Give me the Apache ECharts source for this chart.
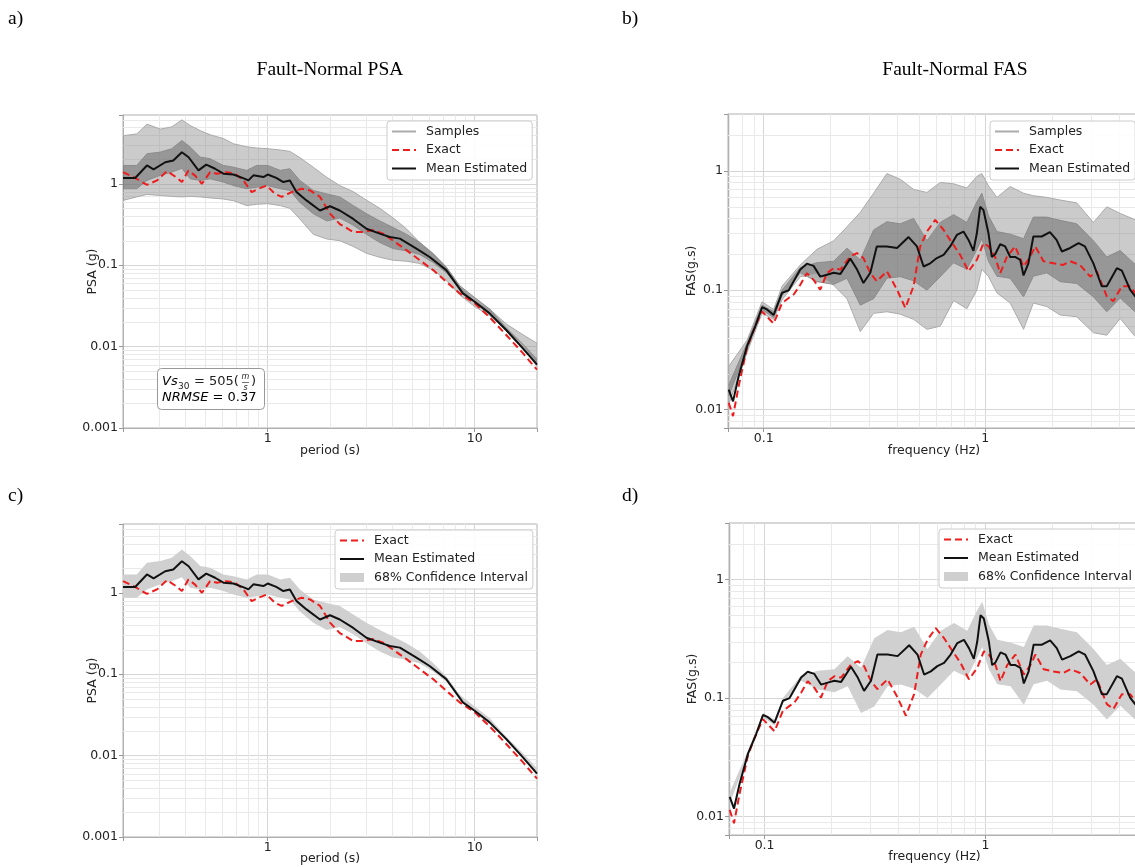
<!DOCTYPE html>
<html><head><meta charset="utf-8">
<script src="https://cdn.jsdelivr.net/npm/echarts@6/dist/echarts.min.js"></script>
<style>html,body{margin:0;padding:0;background:#fff}#c{width:1135px;height:867px}</style>
</head><body><div id="c"></div>
<script>
// ---------------- DATA ----------------
// PSA: mean estimated (period s, g)
const psaMeanPeriod = [0.2,0.229,0.261,0.281,0.32,0.35,0.385,0.415,0.463,0.505,0.557,0.611,0.683,0.777,0.807,0.853,0.953,1.0,1.10,1.19,1.28,1.38,1.54,1.79,2.0,2.23,2.59,3.0,3.48,3.89,4.35,5.23,6.06,7.29,8.77,10,11.8,14.2,17.1,20];
const psaMean = [1.18,1.18,1.68,1.5,1.84,1.93,2.44,2.12,1.46,1.72,1.53,1.33,1.30,1.15,1.1,1.27,1.21,1.30,1.18,1.05,1.1,0.79,0.625,0.47,0.53,0.47,0.37,0.28,0.244,0.222,0.212,0.16,0.126,0.087,0.045,0.0356,0.0256,0.016,0.0095,0.006];
// PSA: exact
const psaExactPeriod = [0.2,0.225,0.261,0.292,0.326,0.357,0.385,0.414,0.446,0.481,0.527,0.568,0.634,0.696,0.763,0.837,0.902,0.989,1.085,1.168,1.305,1.459,1.6,1.79,2.0,2.23,2.59,2.89,3.23,3.61,4.04,4.68,5.43,6.3,7.3,8.47,10,11.8,14.2,17.1,20];
const psaExact = [1.39,1.21,0.97,1.1,1.43,1.23,1.05,1.46,1.26,1.0,1.39,1.33,1.39,1.33,1.1,0.79,0.87,0.95,0.75,0.69,0.79,0.87,0.83,0.69,0.43,0.32,0.256,0.256,0.27,0.244,0.2,0.153,0.115,0.087,0.0625,0.045,0.034,0.023,0.0139,0.0083,0.0052];
// PSA: band periods, 68% CI and sample envelope
const psaBandPeriod = [0.2,0.233,0.261,0.303,0.344,0.385,0.422,0.472,0.527,0.611,0.683,0.792,0.885,1.0,1.15,1.28,1.43,1.66,1.93,2.23,2.59,3.0,3.48,4.04,4.68,5.43,6.3,7.3,8.47,10,11.8,14.2,17.1,20];
const psaCiUpper = [1.68,1.68,2.34,2.45,2.7,3.4,2.83,2.13,2.03,1.68,1.6,1.46,1.68,1.68,1.46,1.53,1.1,0.83,0.75,0.69,0.54,0.43,0.35,0.29,0.24,0.19,0.137,0.094,0.056,0.04,0.029,0.017,0.0107,0.007];
const psaCiLower = [0.87,0.87,1.1,1.27,1.39,1.55,1.15,1.1,1.15,1.05,0.95,0.87,0.91,0.95,0.87,0.83,0.59,0.43,0.35,0.38,0.31,0.24,0.19,0.16,0.15,0.135,0.108,0.081,0.051,0.035,0.026,0.0155,0.0093,0.006];
const psaSamplesUpper = [3.9,4.1,5.4,4.7,5.0,6.1,5.2,4.5,4.0,3.6,3.1,2.85,2.75,2.7,2.6,2.5,2.1,1.6,1.2,0.95,0.8,0.63,0.5,0.38,0.28,0.19,0.14,0.095,0.055,0.037,0.029,0.019,0.014,0.011];
const psaSamplesLower = [0.625,0.69,0.74,0.72,0.70,0.69,0.70,0.69,0.67,0.65,0.62,0.54,0.56,0.57,0.54,0.5,0.37,0.24,0.21,0.2,0.17,0.14,0.125,0.115,0.112,0.105,0.087,0.065,0.043,0.031,0.024,0.016,0.0105,0.0057];

// FAS: mean estimated (frequency Hz, g.s)
const fasMeanFreq = [0.0695,0.0727,0.0771,0.0841,0.0917,0.0983,0.1035,0.1109,0.121,0.1297,0.1366,0.1463,0.1567,0.168,0.180,0.193,0.207,0.222,0.246,0.264,0.282,0.303,0.324,0.360,0.400,0.451,0.492,0.527,0.565,0.605,0.649,0.695,0.745,0.798,0.841,0.885,0.917,0.949,0.982,1.035,1.071,1.109,1.169,1.231,1.297,1.365,1.439,1.49,1.567,1.65,1.80,1.96,2.10,2.22,2.42,2.64,2.82,3.08,3.36,3.54,3.93,4.14,4.51,4.75,5.0];
const fasMean = [0.0147,0.0117,0.019,0.034,0.05,0.072,0.069,0.062,0.095,0.1,0.119,0.149,0.167,0.16,0.13,0.135,0.14,0.137,0.184,0.149,0.115,0.14,0.233,0.233,0.226,0.279,0.233,0.158,0.168,0.186,0.198,0.233,0.291,0.31,0.264,0.214,0.30,0.50,0.47,0.30,0.19,0.2,0.243,0.233,0.19,0.19,0.18,0.133,0.168,0.282,0.282,0.307,0.264,0.211,0.226,0.248,0.233,0.168,0.108,0.108,0.153,0.146,0.101,0.089,0.082];
// FAS: exact
const fasExactFreq = [0.0695,0.0727,0.0771,0.0841,0.0917,0.0983,0.1035,0.1109,0.121,0.1297,0.1366,0.1463,0.1567,0.168,0.180,0.193,0.207,0.222,0.246,0.264,0.282,0.303,0.324,0.360,0.400,0.436,0.475,0.509,0.546,0.595,0.649,0.708,0.771,0.841,0.917,0.982,1.035,1.109,1.169,1.253,1.365,1.49,1.596,1.682,1.833,2.03,2.25,2.42,2.68,2.98,3.19,3.54,3.79,4.14,4.51,4.75,5.0];
const fasExact = [0.0114,0.0088,0.0157,0.033,0.05,0.0665,0.06,0.0525,0.078,0.086,0.092,0.111,0.139,0.122,0.101,0.139,0.153,0.149,0.192,0.205,0.186,0.139,0.119,0.144,0.101,0.071,0.108,0.233,0.31,0.389,0.32,0.25,0.198,0.144,0.18,0.248,0.233,0.19,0.139,0.19,0.233,0.158,0.19,0.233,0.175,0.168,0.163,0.175,0.163,0.13,0.144,0.089,0.081,0.108,0.108,0.095,0.085];
// FAS: band frequencies, 68% CI and sample envelope
const fasBandFreq = [0.0695,0.0841,0.0983,0.1109,0.121,0.1463,0.174,0.207,0.2377,0.273,0.3135,0.360,0.414,0.475,0.546,0.627,0.720,0.826,0.917,0.966,1.035,1.13,1.297,1.49,1.65,1.897,2.18,2.59,3.08,3.54,4.07,4.75,5.0];
const fasCiUpper = [0.016,0.036,0.075,0.066,0.1,0.155,0.17,0.175,0.225,0.18,0.32,0.375,0.36,0.40,0.26,0.37,0.43,0.37,0.55,0.65,0.42,0.31,0.295,0.27,0.41,0.41,0.385,0.36,0.26,0.19,0.215,0.165,0.15];
const fasCiLower = [0.013,0.032,0.069,0.059,0.09,0.14,0.118,0.112,0.126,0.075,0.085,0.126,0.13,0.12,0.1,0.13,0.17,0.15,0.22,0.27,0.175,0.131,0.126,0.088,0.131,0.14,0.118,0.114,0.088,0.066,0.086,0.066,0.062];
const fasSamplesUpper = [0.023,0.038,0.08,0.069,0.108,0.163,0.22,0.26,0.34,0.45,0.65,0.95,0.85,0.70,0.66,0.80,0.78,0.72,0.9,0.95,0.75,0.6,0.74,0.65,0.62,0.6,0.57,0.54,0.37,0.5,0.44,0.39,0.38];
const fasSamplesLower = [0.011,0.03,0.064,0.057,0.083,0.13,0.137,0.11,0.085,0.045,0.064,0.066,0.063,0.057,0.047,0.05,0.082,0.07,0.1,0.15,0.13,0.095,0.078,0.047,0.078,0.073,0.062,0.06,0.044,0.042,0.058,0.041,0.038];

// minor grid values
const psaMinorX = [0.3,0.4,0.5,0.6,0.7,0.8,0.9,2,3,4,5,6,7,8,9];
const psaMinorY = [0.002,0.003,0.004,0.005,0.006,0.007,0.008,0.009,0.02,0.03,0.04,0.05,0.06,0.07,0.08,0.09,0.2,0.3,0.4,0.5,0.6,0.7,0.8,0.9,2,3,4,5,6];
const fasMinorX = [0.07,0.08,0.09,0.2,0.3,0.4,0.5,0.6,0.7,0.8,0.9,2,3,4];
const fasMinorY = [0.008,0.009,0.02,0.03,0.04,0.05,0.06,0.07,0.08,0.09,0.2,0.3,0.4,0.5,0.6,0.7,0.8,0.9,2];

const legendNamesTop = ['Samples','Exact','Mean Estimated'];
const ciName = '68% Confidence Interval';

// ---------------- CHART ----------------
const FONT = "'DejaVu Sans', sans-serif";
const SERIF = "'Liberation Serif', 'Times New Roman', serif";
const pairs = (xs, ys) => xs.map((x, i) => [x, ys[i]]);

function logLabel(v) {
  const l = Math.log10(v), r = Math.round(l);
  if (Math.abs(l - r) > 1e-6) return '';
  return r >= 0 ? String(Math.pow(10, r)) : Math.pow(10, r).toFixed(-r);
}
function axisBase(g, min, max, name, nameGap, isY) {
  return {
    type: 'log', logBase: 10, gridIndex: g, min, max,
    name, nameLocation: 'middle', nameGap, nameMoveOverlap: false,
    nameTextStyle: { fontFamily: FONT, fontSize: 12.5, color: '#222' },
    axisLine: { show: true, lineStyle: { color: '#b0b0b0', width: 1 } },
    axisTick: { show: true, length: 4, lineStyle: { color: '#999' } },
    axisLabel: { formatter: logLabel, fontFamily: FONT, fontSize: 12.5, color: '#222', margin: isY ? 5 : 4 },
    splitLine: { show: true, lineStyle: { color: '#d6d6d6', width: 1 } },
    minorTick: { show: false }, minorSplitLine: { show: false }
  };
}
function band(name, g, xs, lo, hi, fill, z) {
  return {
    type: 'custom', name, xAxisIndex: g, yAxisIndex: g, silent: true, z,
    itemStyle: { color: fill },
    data: [[xs[0], lo[0]]],
    renderItem: (params, api) => {
      const top = xs.map((x, i) => api.coord([x, hi[i]]));
      const bot = xs.map((x, i) => api.coord([x, lo[i]])).reverse();
      return { type: 'polygon', shape: { points: top.concat(bot) }, style: { fill: fill, stroke: null } };
    }
  };
}
function minorGrid(g, xVals, yVals) {
  const mk = (vals, vertical) => ({
    type: 'custom', xAxisIndex: g, yAxisIndex: g, silent: true, z: 1,
    data: vals.map(v => vertical ? [v, 1] : [1, v]),
    renderItem: (params, api) => {
      const cs = params.coordSys;
      const p = api.coord([api.value(0), api.value(1)]);
      if (vertical) {
        const x = Math.round(p[0]) + 0.5;
        return { type: 'line', shape: { x1: x, y1: cs.y, x2: x, y2: cs.y + cs.height }, style: { stroke: '#e9e9e9', lineWidth: 1 } };
      }
      const y = Math.round(p[1]) + 0.5;
      return { type: 'line', shape: { x1: cs.x, y1: y, x2: cs.x + cs.width, y2: y }, style: { stroke: '#e9e9e9', lineWidth: 1 } };
    }
  });
  return [mk(xVals, true), mk(yVals, false)];
}
function line(name, g, xs, ys, color, width, type, z) {
  return {
    type: 'line', name, xAxisIndex: g, yAxisIndex: g, data: pairs(xs, ys),
    showSymbol: false, symbol: 'none', silent: true, z,
    lineStyle: { color, width, type }, itemStyle: { color }
  };
}
const red = '#ee1d1d', dash = [7, 4];

const grids = [
  { left: 123, top: 115, width: 414, height: 313 },
  { left: 728, top: 114, width: 412, height: 314 },
  { left: 123, top: 524, width: 414, height: 313 },
  { left: 729, top: 523, width: 411, height: 312 }
].map(g => Object.assign(g, { show: true, borderColor: '#b0b0b0', borderWidth: 1, containLabel: false, outerBoundsMode: 'none' }));

const xAxes = [
  axisBase(0, 0.2, 20, 'period (s)', 16, false),
  axisBase(1, 0.069, 5, 'frequency (Hz)', 16, false),
  axisBase(2, 0.2, 20, 'period (s)', 15, false),
  axisBase(3, 0.069, 5, 'frequency (Hz)', 15, false)
];
const yAxes = [
  axisBase(0, 0.001, 7, 'PSA (g)', 24, true),
  axisBase(1, 0.007, 3, 'FAS(g.s)', 30, true),
  axisBase(2, 0.001, 7, 'PSA (g)', 24, true),
  axisBase(3, 0.007, 3, 'FAS(g.s)', 30, true)
];

const sampleColor = '#ababab';
const outerFill = 'rgba(140,140,140,0.45)';
const coreFill = 'rgba(100,100,100,0.5)';
const series = [
  // panel a
  ...minorGrid(0, psaMinorX, psaMinorY),
  band('psaSamplesOuter', 0, psaBandPeriod, psaSamplesLower, psaSamplesUpper, outerFill, 2),
  band('psaSamplesCore', 0, psaBandPeriod, psaCiLower, psaCiUpper, coreFill, 3),
  line('Samples', 0, psaBandPeriod, psaSamplesUpper, sampleColor, 1, 'solid', 4),
  line('Samples', 0, psaBandPeriod, psaSamplesLower, sampleColor, 1, 'solid', 4),
  line('Samples', 0, psaBandPeriod, psaCiUpper, '#8c8c8c', 1, 'solid', 4),
  line('Samples', 0, psaBandPeriod, psaCiLower, '#8c8c8c', 1, 'solid', 4),
  line('Exact', 0, psaExactPeriod, psaExact, red, 2, dash, 5),
  line('Mean Estimated', 0, psaMeanPeriod, psaMean, '#111', 2, 'solid', 6),
  // panel b
  ...minorGrid(1, fasMinorX, fasMinorY),
  band('fasSamplesOuter', 1, fasBandFreq, fasSamplesLower, fasSamplesUpper, outerFill, 2),
  band('fasSamplesCore', 1, fasBandFreq, fasCiLower, fasCiUpper, coreFill, 3),
  line('Samples', 1, fasBandFreq, fasSamplesUpper, sampleColor, 1, 'solid', 4),
  line('Samples', 1, fasBandFreq, fasSamplesLower, sampleColor, 1, 'solid', 4),
  line('Samples', 1, fasBandFreq, fasCiUpper, '#8c8c8c', 1, 'solid', 4),
  line('Samples', 1, fasBandFreq, fasCiLower, '#8c8c8c', 1, 'solid', 4),
  line('Exact', 1, fasExactFreq, fasExact, red, 2, dash, 5),
  line('Mean Estimated', 1, fasMeanFreq, fasMean, '#111', 2, 'solid', 6),
  // panel c
  ...minorGrid(2, psaMinorX, psaMinorY),
  band(ciName, 2, psaBandPeriod, psaCiLower, psaCiUpper, '#d0d0d0', 2),
  line('Exact', 2, psaExactPeriod, psaExact, red, 2, dash, 5),
  line('Mean Estimated', 2, psaMeanPeriod, psaMean, '#111', 2, 'solid', 6),
  // panel d
  ...minorGrid(3, fasMinorX, fasMinorY),
  band(ciName, 3, fasBandFreq, fasCiLower, fasCiUpper, '#d0d0d0', 2),
  line('Exact', 3, fasExactFreq, fasExact, red, 2, dash, 5),
  line('Mean Estimated', 3, fasMeanFreq, fasMean, '#111', 2, 'solid', 6)
];

function legend(left, top, data) {
  return {
    data, left, top, orient: 'vertical', selectedMode: false,
    backgroundColor: 'rgba(255,255,255,0.9)', borderColor: '#cccccc', borderWidth: 1, borderRadius: 3,
    padding: [3, 5, 4, 4], itemWidth: 24, itemHeight: 9, itemGap: 3.5,
    itemStyle: { opacity: 0 },
    textStyle: { fontFamily: FONT, fontSize: 12.5, color: '#222', lineHeight: 15, padding: [0, 0, 0, 5] }
  };
}
const ciLegendData = ['Exact', 'Mean Estimated', { name: ciName, icon: 'rect', itemStyle: { color: '#cfcfcf', opacity: 1 } }];

const txt = (text, x, y, font, align) => ({
  type: 'text', x, y, silent: true,
  style: { text, font, fill: '#000', align: align || 'left', verticalAlign: 'middle' }
});
const graphics = [
  txt('a)', 8, 19, '19.5px ' + SERIF), txt('b)', 622, 19, '19.5px ' + SERIF),
  txt('c)', 8, 496, '19.5px ' + SERIF), txt('d)', 622, 496, '19.5px ' + SERIF),
  txt('Fault-Normal PSA', 330, 70, '19.5px ' + SERIF, 'center'),
  txt('Fault-Normal FAS', 955, 70, '19.5px ' + SERIF, 'center'),
  { type: 'rect', shape: { x: 157.5, y: 368.5, width: 107, height: 41, r: 4 }, style: { fill: '#fff', stroke: '#999', lineWidth: 1 }, z: 100 },
  { type: 'text', x: 162, y: 382, z: 101, style: { text: '{i|Vs}', verticalAlign: 'middle', rich: { i: { fontFamily: FONT, fontStyle: 'italic', fontSize: 13, color: '#222' } } } },
  { type: 'text', x: 178, y: 387, z: 101, style: { text: '30', verticalAlign: 'middle', font: '9px ' + FONT, fill: '#222' } },
  { type: 'text', x: 194, y: 382, z: 101, style: { text: '= 505(', verticalAlign: 'middle', font: '13px ' + FONT, fill: '#222' } },
  { type: 'text', x: 245.5, y: 377, z: 101, style: { text: 'm', align: 'center', verticalAlign: 'middle', font: 'italic 8px ' + FONT, fill: '#222' } },
  { type: 'line', z: 101, shape: { x1: 242, y1: 382.5, x2: 249, y2: 382.5 }, style: { stroke: '#333', lineWidth: 0.7 } },
  { type: 'text', x: 245.5, y: 388, z: 101, style: { text: 's', align: 'center', verticalAlign: 'middle', font: 'italic 8px ' + FONT, fill: '#222' } },
  { type: 'text', x: 251, y: 382, z: 101, style: { text: ')', verticalAlign: 'middle', font: '13px ' + FONT, fill: '#222' } },
  { type: 'text', x: 162, y: 398, z: 101, style: { text: '{i|NRMSE}{n| = 0.37}', verticalAlign: 'middle', rich: { i: { fontFamily: FONT, fontStyle: 'italic', fontSize: 13, color: '#222' }, n: { fontFamily: FONT, fontSize: 13, color: '#222' } } } }
];

const chart = echarts.init(document.getElementById('c'), null, { renderer: 'canvas' });
chart.setOption({
  animation: false,
  backgroundColor: '#fff',
  grid: grids, xAxis: xAxes, yAxis: yAxes,
  legend: [
    legend(387, 121, legendNamesTop),
    legend(990, 121, legendNamesTop),
    legend(335, 530, ciLegendData),
    legend(939, 529, ciLegendData)
  ],
  graphic: graphics,
  series
});
</script>
</body></html>
